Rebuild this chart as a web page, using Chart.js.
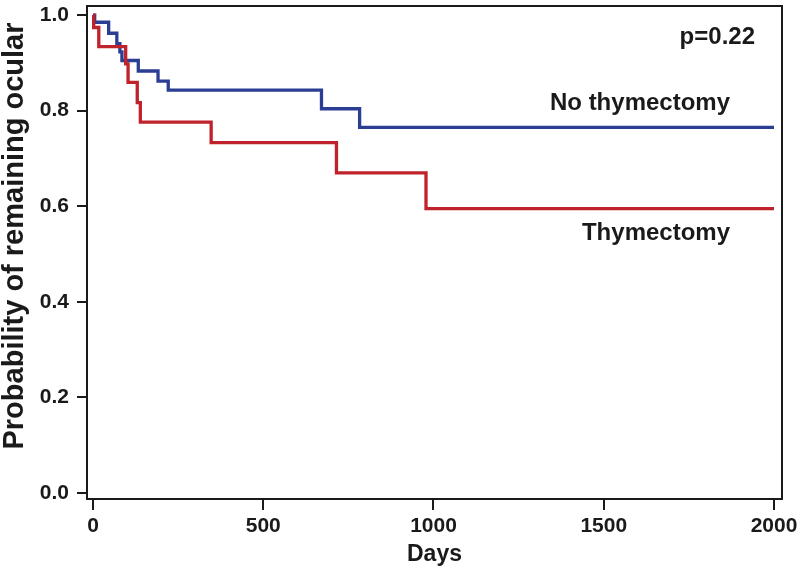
<!DOCTYPE html>
<html>
<head>
<meta charset="utf-8">
<script src="https://cdn.jsdelivr.net/npm/chart.js@4.4.1/dist/chart.umd.min.js"></script>
<style>
  html, body { margin: 0; padding: 0; background: #fff; }
  #wrap { width: 800px; height: 571px; }
</style>
</head>
<body>
<div id="wrap"><canvas id="km"></canvas></div>
<script>
// curva de Kaplan-Meier: dias y probabilidad
const redDays  = [0, 2, 17, 96, 103, 130, 139, 347, 715, 978, 2000];
const redSurv  = [1.0, 0.974, 0.934, 0.898, 0.859, 0.817, 0.776, 0.733, 0.670, 0.595, 0.595];
const blueDays = [0, 5, 46, 70, 79, 85, 133, 191, 221, 671, 783, 2000];
const blueSurv = [1.0, 0.985, 0.962, 0.940, 0.923, 0.905, 0.883, 0.862, 0.843, 0.804, 0.765, 0.765];

const xTicks = [0, 500, 1000, 1500, 2000];
const yTicks = [0.0, 0.2, 0.4, 0.6, 0.8, 1.0];

const redLabel  = 'Thymectomy';
const blueLabel = 'No thymectomy';
const pText = 'p=0.22';

const FONT = "'Liberation Sans', Arial, Helvetica, sans-serif";
const INK = '#1a1a1a';

function toPoints(xs, ys) {
    return xs.map((x, i) => ({ x: x, y: ys[i] }));
}

// marco, titulo del eje y y textos
const decoraciones = {
    id: 'decoraciones',
    afterDraw(chart) {
        const ctx = chart.ctx;
        const a = chart.chartArea;
        ctx.save();
        ctx.strokeStyle = INK;
        ctx.lineWidth = 2;
        ctx.strokeRect(a.left, a.top, a.right - a.left, a.bottom - a.top);

        ctx.fillStyle = INK;
        ctx.font = 'bold 24px ' + FONT;
        ctx.textAlign = 'right';
        ctx.textBaseline = 'alphabetic';
        ctx.fillText(pText, 755, 44);
        ctx.fillText(blueLabel, 730, 110);
        ctx.fillText(redLabel, 730, 240);

        ctx.translate(15, 236);
        ctx.rotate(-Math.PI / 2);
        ctx.textAlign = 'center';
        ctx.textBaseline = 'middle';
        ctx.font = 'bold 29px ' + FONT;
        ctx.fillText('Probability of remaining ocular', 0, 0);
        ctx.restore();
    }
};

const ctx = document.getElementById('km').getContext('2d');
new Chart(ctx, {
    type: 'line',
    data: {
        datasets: [
            {
                label: redLabel,
                data: toPoints(redDays, redSurv),
                borderColor: '#c0222b',
                borderWidth: 3.3,
                stepped: true,
                pointRadius: 0,
                fill: false
            },
            {
                label: blueLabel,
                data: toPoints(blueDays, blueSurv),
                borderColor: '#2c3e94',
                borderWidth: 3.3,
                stepped: true,
                pointRadius: 0,
                fill: false
            }
        ]
    },
    options: {
        responsive: true,
        maintainAspectRatio: false,
        animation: false,
        layout: { padding: { top: 6, right: 18, left: 0, bottom: 0 } },
        plugins: {
            legend: { display: false },
            tooltip: { enabled: false }
        },
        scales: {
            x: {
                type: 'linear',
                min: -17.6,
                max: 2023.5,
                afterBuildTicks: (scale) => { scale.ticks = xTicks.map(v => ({ value: v })); },
                afterFit: (scale) => {
                    scale.height = 72;
                    scale.paddingLeft = 0;
                    scale.paddingRight = 0;
                },
                grid: { drawOnChartArea: false, drawTicks: true, tickLength: 11, color: INK, lineWidth: 2 },
                border: { display: false },
                ticks: {
                    color: INK,
                    padding: 4,
                    maxRotation: 0,
                    callback: (v) => String(v),
                    font: { family: FONT, size: 21, weight: 'bold' }
                },
                title: {
                    display: true,
                    text: 'Days',
                    color: INK,
                    padding: { top: 0, bottom: 3 },
                    font: { family: FONT, size: 23, weight: 'bold' }
                }
            },
            y: {
                type: 'linear',
                min: -0.0126,
                max: 1.019,
                afterBuildTicks: (scale) => { scale.ticks = yTicks.map(v => ({ value: v })); },
                afterFit: (scale) => {
                    scale.width = 87;
                    scale.paddingTop = 0;
                    scale.paddingBottom = 0;
                },
                grid: { drawOnChartArea: false, drawTicks: true, tickLength: 10, color: INK, lineWidth: 2 },
                border: { display: false },
                ticks: {
                    color: INK,
                    padding: 8,
                    callback: (v) => Number(v).toFixed(1),
                    font: { family: FONT, size: 21, weight: 'bold' }
                }
            }
        }
    },
    plugins: [decoraciones]
});
</script>
</body>
</html>
